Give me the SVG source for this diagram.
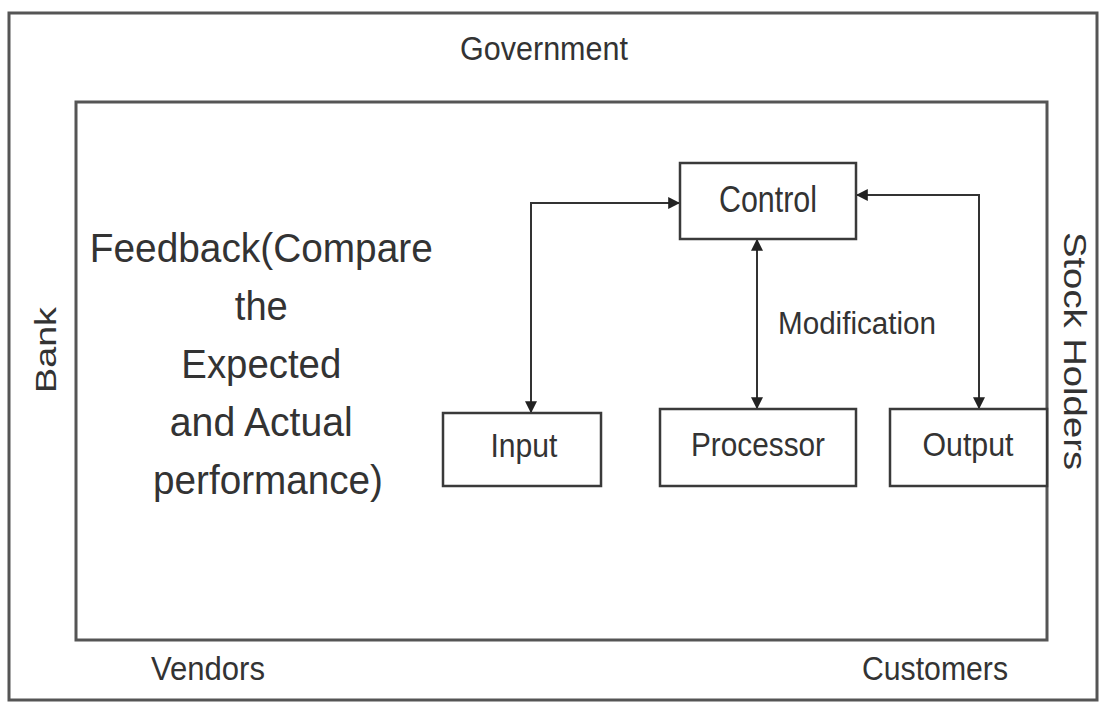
<svg xmlns="http://www.w3.org/2000/svg" width="1103" height="704" viewBox="0 0 1103 704">
  <style>
    .frame { fill: none; stroke: #555; stroke-width: 3; }
    .box { fill: #fff; stroke: #3a3a3a; stroke-width: 2.5; }
    .lbl { font-family: "Liberation Sans", Arial, sans-serif; fill: #333; }
    .wire { fill: none; stroke: #333; stroke-width: 2; }
  </style>
  <defs>
    <marker id="arrow" viewBox="0 0 10 10" refX="9" refY="5" markerWidth="6" markerHeight="6" orient="auto-start-reverse" markerUnits="strokeWidth">
      <path d="M0,0 L10,5 L0,10 Z" fill="#222"/>
    </marker>
  </defs>

  <rect width="1103" height="704" fill="#fff"/>

  <!-- environment frame and organisation boundary -->
  <g id="environment">
    <rect class="frame" x="9" y="13" width="1088" height="687"/>
    <text class="lbl" x="544" y="60" font-size="33" text-anchor="middle" textLength="168" lengthAdjust="spacingAndGlyphs">Government</text>
    <text class="lbl" transform="translate(56,350) rotate(-90)" font-size="29" text-anchor="middle" textLength="86" lengthAdjust="spacingAndGlyphs">Bank</text>
    <text class="lbl" transform="translate(1064,351) rotate(90)" font-size="31" text-anchor="middle" textLength="238" lengthAdjust="spacingAndGlyphs">Stock Holders</text>
    <text class="lbl" x="208" y="680" font-size="33" text-anchor="middle" textLength="114" lengthAdjust="spacingAndGlyphs">Vendors</text>
    <text class="lbl" x="935" y="680" font-size="33" text-anchor="middle" textLength="146" lengthAdjust="spacingAndGlyphs">Customers</text>
  </g>

  <g id="organisation">
    <rect class="frame" x="76" y="102" width="971" height="538"/>
  </g>

  <g id="feedback">
    <text class="lbl" font-size="41" text-anchor="middle">
      <tspan x="267" y="262" textLength="343" lengthAdjust="spacingAndGlyphs">Feedback(Compare</tspan>
      <tspan x="267" y="320" textLength="53" lengthAdjust="spacingAndGlyphs">the</tspan>
      <tspan x="267" y="378" textLength="160" lengthAdjust="spacingAndGlyphs">Expected</tspan>
      <tspan x="267" y="436" textLength="183" lengthAdjust="spacingAndGlyphs">and Actual</tspan>
      <tspan x="268" y="494" textLength="230" lengthAdjust="spacingAndGlyphs">performance)</tspan>
    </text>
  </g>

  <!-- connectors between control and the three stages -->
  <g id="connectors">
    <path class="wire" d="M531,412 L531,203 L679,203" marker-start="url(#arrow)" marker-end="url(#arrow)"/>
    <path class="wire" d="M757,240 L757,408" marker-start="url(#arrow)" marker-end="url(#arrow)"/>
    <path class="wire" d="M979,408 L979,195 L857,195" marker-start="url(#arrow)" marker-end="url(#arrow)"/>
    <text class="lbl" x="778" y="334" font-size="31" textLength="158" lengthAdjust="spacingAndGlyphs">Modification</text>
  </g>

  <g id="control">
    <rect class="box" x="680" y="163" width="176" height="76"/>
    <text class="lbl" x="768" y="212" font-size="36" text-anchor="middle" textLength="98" lengthAdjust="spacingAndGlyphs">Control</text>
  </g>

  <g id="input">
    <rect class="box" x="443" y="413" width="158" height="73"/>
    <text class="lbl" x="524" y="457" font-size="33" text-anchor="middle" textLength="67" lengthAdjust="spacingAndGlyphs">Input</text>
  </g>

  <g id="processor">
    <rect class="box" x="660" y="409" width="196" height="77"/>
    <text class="lbl" x="758" y="456" font-size="33" text-anchor="middle" textLength="134" lengthAdjust="spacingAndGlyphs">Processor</text>
  </g>

  <g id="output">
    <rect class="box" x="890" y="409" width="157" height="77"/>
    <text class="lbl" x="968" y="456" font-size="33" text-anchor="middle" textLength="91" lengthAdjust="spacingAndGlyphs">Output</text>
  </g>
</svg>
